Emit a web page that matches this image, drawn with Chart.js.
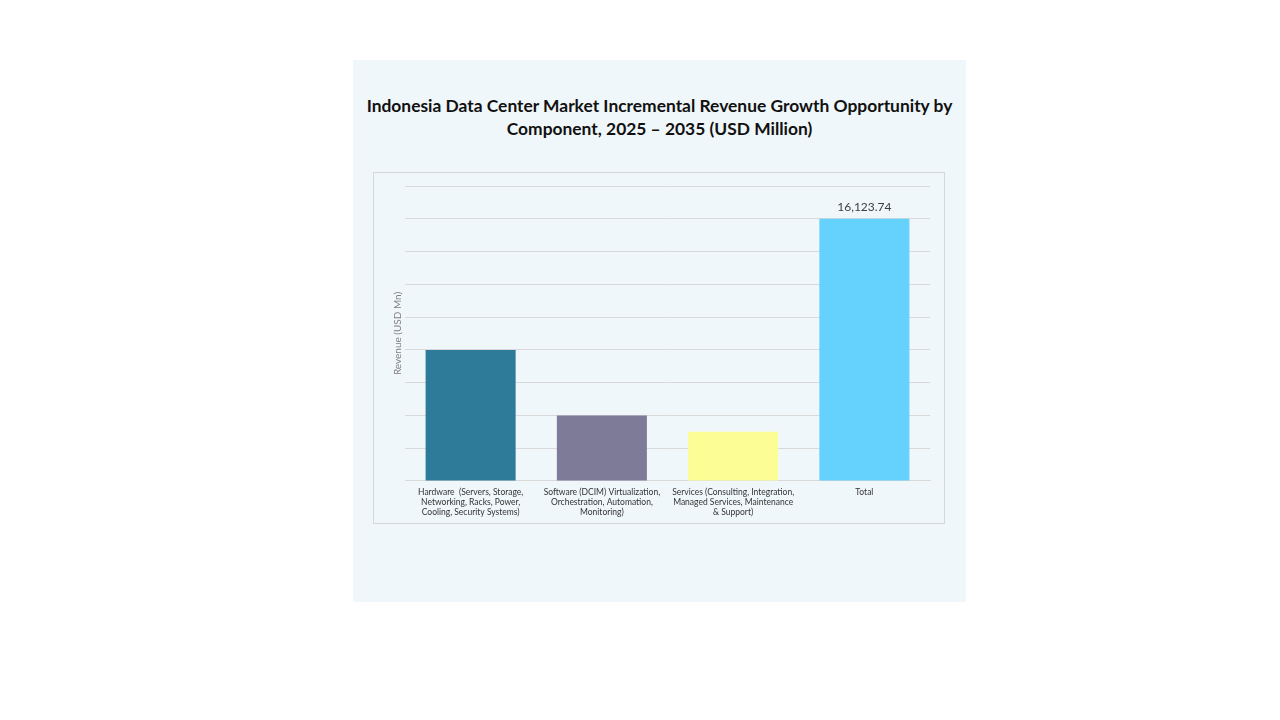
<!DOCTYPE html>
<html>
<head>
<meta charset="utf-8">
<script src="https://cdn.jsdelivr.net/npm/chart.js@4"></script>
<style>
  body { margin: 0; background: #ffffff; width: 1280px; height: 720px; position: relative; overflow: hidden; }
  #panel { position: absolute; left: 353px; top: 60px; width: 613px; height: 542px; background: #f0f7fa; }
  #title { position: absolute; left: 0; top: 34px; width: 613px; text-align: center;
           font-family: Lato, "DejaVu Sans", sans-serif; font-weight: bold; font-size: 17.4px;
           line-height: 23px; color: #111; }
  #box { position: absolute; left: 20px; top: 112px; width: 570px; height: 350px; border: 1px solid #d3d8db; }
  #box canvas { width: 570px; height: 350px; }
</style>
</head>
<body>
<div id="panel">
  <div id="title">Indonesia Data Center Market Incremental Revenue Growth Opportunity by<br>Component, 2025 – 2035 (USD Million)</div>
  <div id="box"><canvas id="myChart" width="570" height="350"></canvas></div>
</div>
<script>
// categories and values
const components = [
    ['Hardware  (Servers, Storage,', 'Networking, Racks, Power,', 'Cooling, Security Systems)'],
    ['Software (DCIM) Virtualization,', 'Orchestration, Automation,', 'Monitoring)'],
    ['Services (Consulting, Integration,', 'Managed Services, Maintenance', '& Support)'],
    ['Total']
];
const revenue = [8060, 4030, 3020, 16123.74];
const barColors = ['#2e7b99', '#7e7b99', '#fdfd96', '#64d2fd'];
const valueLabels = ['', '', '', '16,123.74'];

// axis range (ticks are hidden in the original)
const yMax = 18140;
const yStep = yMax / 9;

// Labels above bars
const barLabels = {
    id: 'barLabels',
    afterDatasetsDraw(chart) {
        const ctx = chart.ctx;
        const meta = chart.getDatasetMeta(0);
        ctx.save();
        ctx.font = '12px Lato, "DejaVu Sans", sans-serif';
        ctx.fillStyle = '#404040';
        ctx.textAlign = 'center';
        ctx.textBaseline = 'bottom';
        meta.data.forEach(function (bar, i) {
            if (valueLabels[i]) {
                ctx.fillText(valueLabels[i], bar.x, bar.y - 6);
            }
        });
        ctx.restore();
    }
};

const data = {
    labels: components,
    datasets: [{
        label: 'Revenue',
        data: revenue,
        backgroundColor: barColors,
        categoryPercentage: 0.686,
        barPercentage: 1.0
    }]
};

const config = {
    type: 'bar',
    data: data,
    options: {
        responsive: false,
        animation: false,
        layout: { padding: { top: 13, right: 14, left: 18, bottom: 0 } },
        plugins: {
            legend: { display: false },
            tooltip: { enabled: false }
        },
        scales: {
            x: {
                grid: { display: false, drawTicks: false },
                border: { color: '#d9d9d9' },
                ticks: {
                    maxRotation: 0,
                    autoSkip: false,
                    padding: 6,
                    color: '#333333',
                    font: { family: 'Lato, "DejaVu Sans", sans-serif', size: 8.5, lineHeight: 1.18 }
                }
            },
            y: {
                min: 0,
                max: yMax,
                grid: { color: '#d9d9d9', drawTicks: false },
                border: { display: false },
                ticks: { display: false, stepSize: yStep },
                title: {
                    display: true,
                    text: 'Revenue (USD Mn)',
                    color: '#7f7f7f',
                    padding: { top: 0, bottom: 1 },
                    font: { family: 'Lato, "DejaVu Sans", sans-serif', size: 10 }
                }
            }
        }
    },
    plugins: [barLabels]
};

const myChart = new Chart(document.getElementById('myChart'), config);
</script>
</body>
</html>
